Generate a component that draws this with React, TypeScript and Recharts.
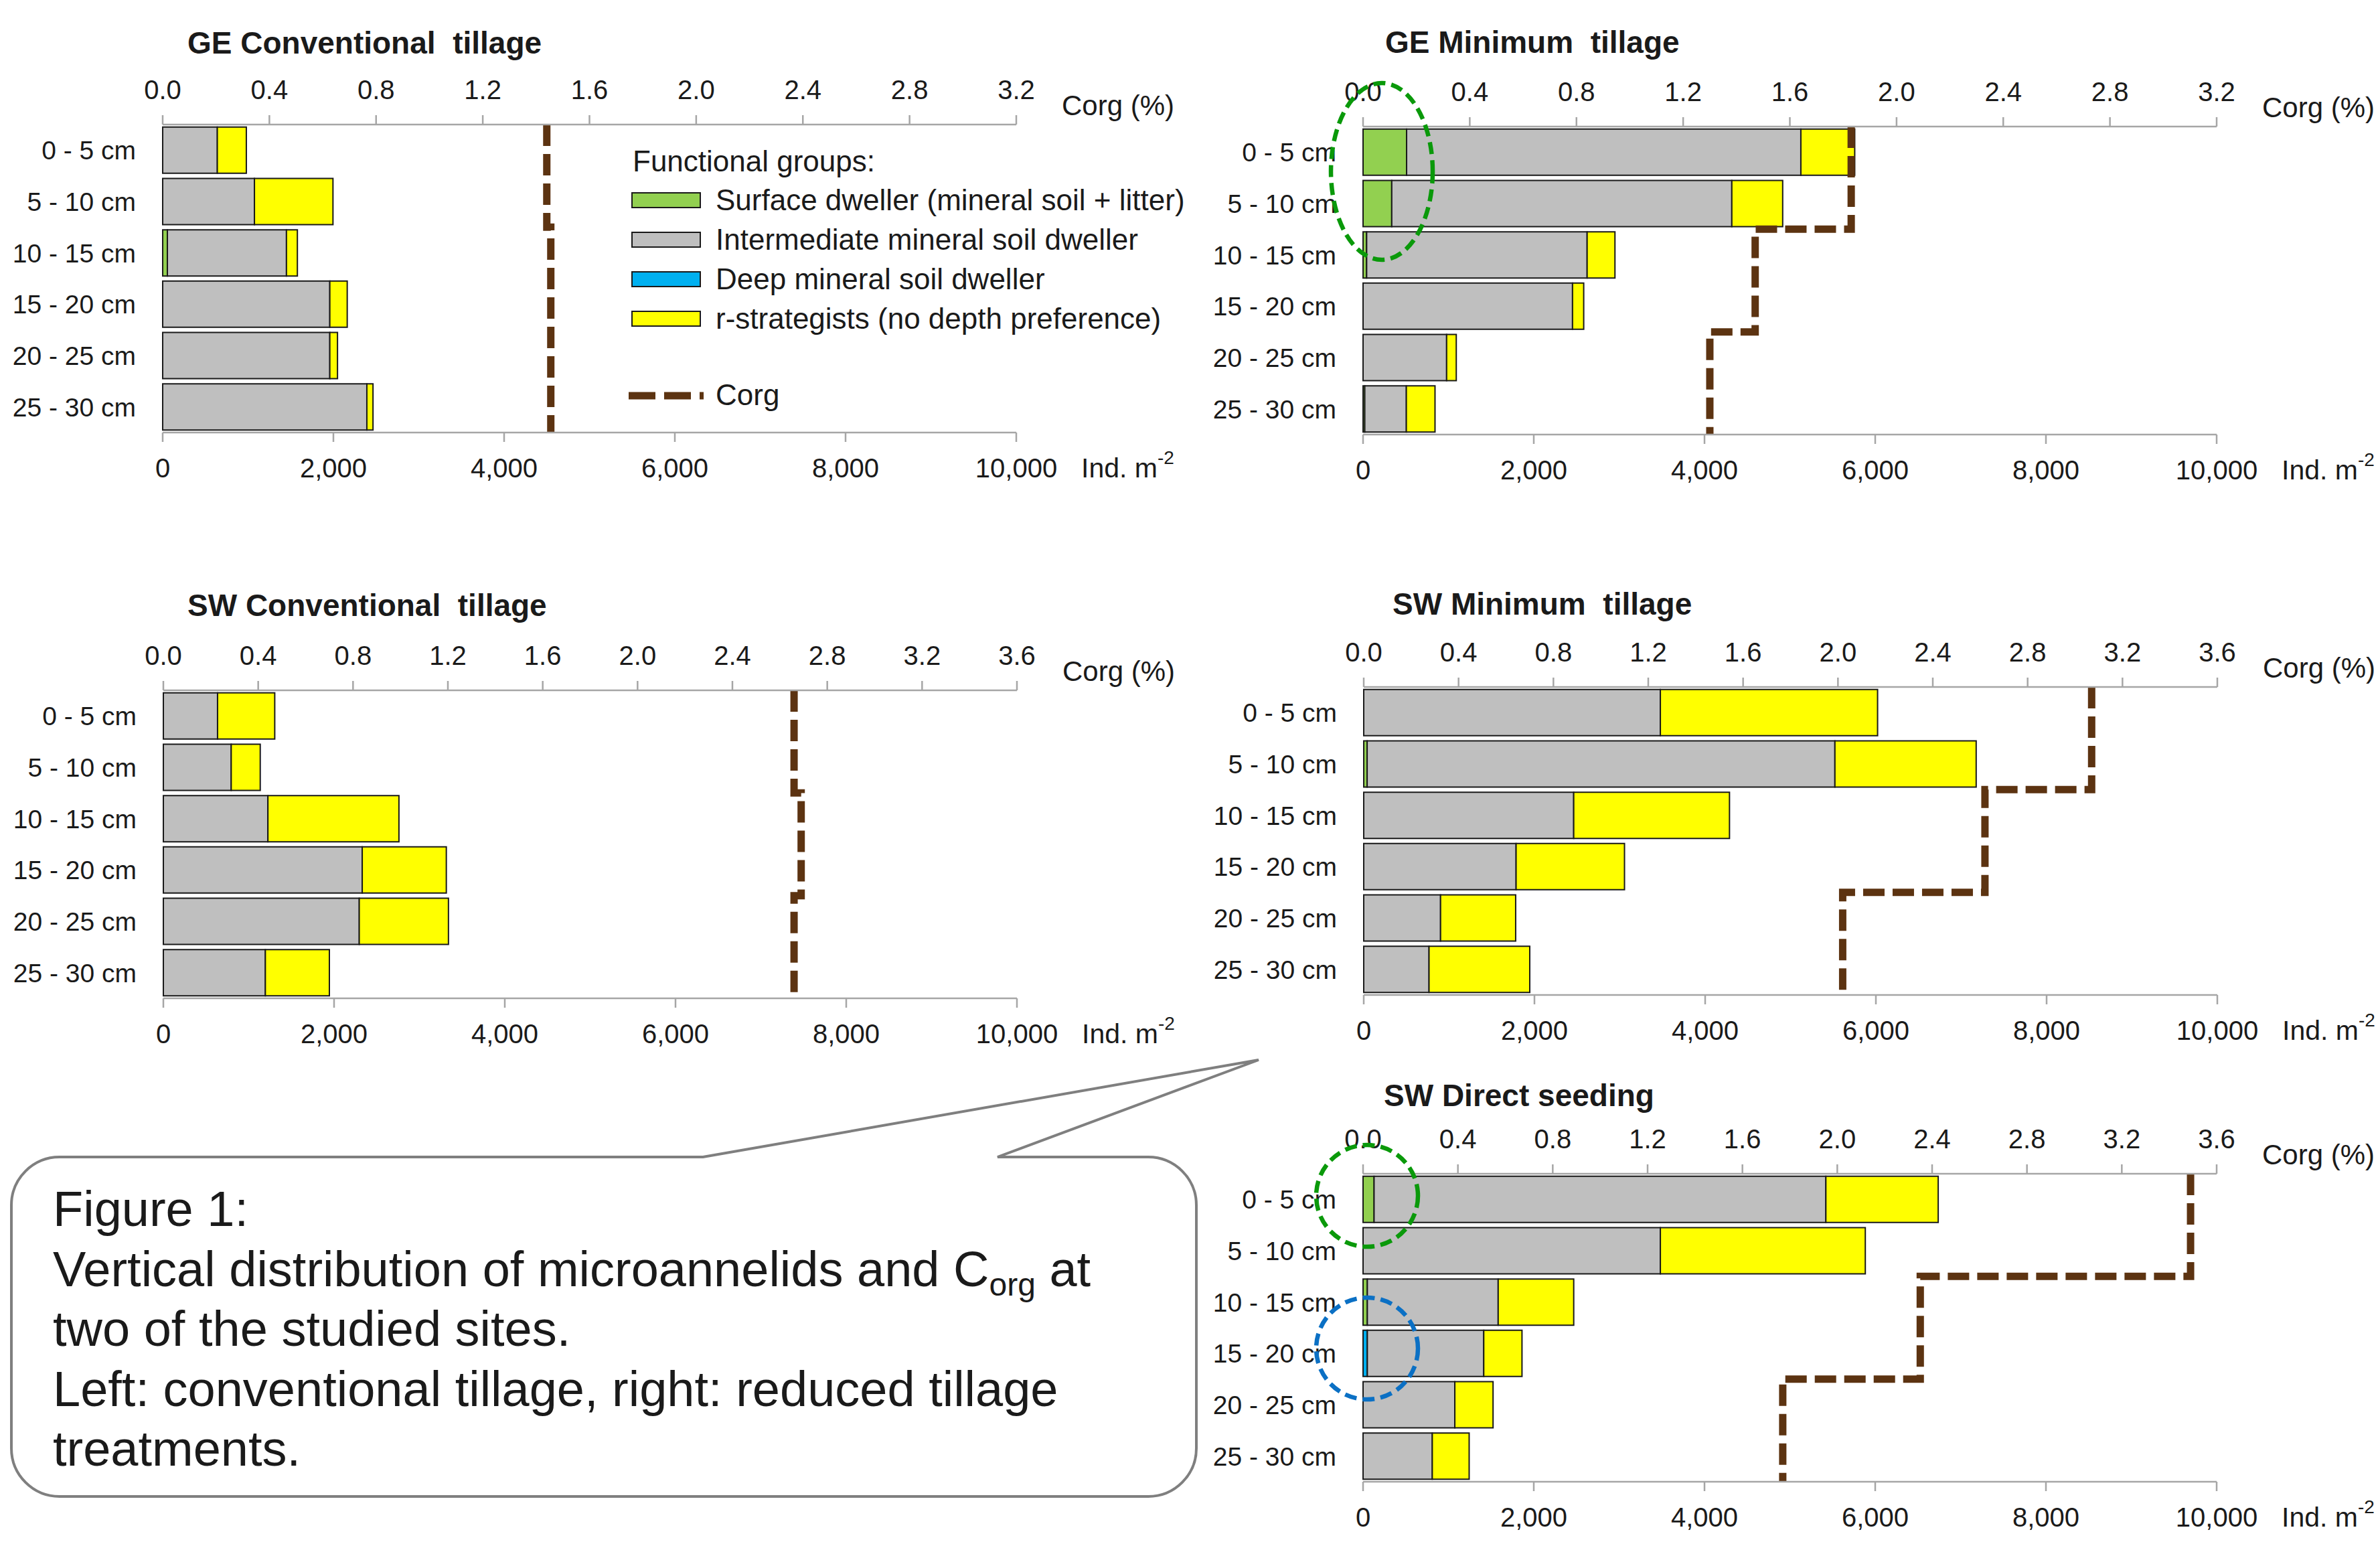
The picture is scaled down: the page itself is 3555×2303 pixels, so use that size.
import React from "react";
import { Bar, ComposedChart, Line, XAxis, YAxis } from "recharts";

const FONT = '"Liberation Sans", Arial, Helvetica, sans-serif';

const depthLabels = ["0 - 5 cm", "5 - 10 cm", "10 - 15 cm", "15 - 20 cm", "20 - 25 cm", "25 - 30 cm"];
const countTicks = [0, 2000, 4000, 6000, 8000, 10000];
const corgTicks32 = [0, 0.4, 0.8, 1.2, 1.6, 2.0, 2.4, 2.8, 3.2];
const corgTicks36 = [0, 0.4, 0.8, 1.2, 1.6, 2.0, 2.4, 2.8, 3.2, 3.6];
// Corg was measured in three layers: 0-10, 10-20, 20-30 cm
const corgLayerBounds = [0, 10, 20, 30];

// GE conventional tillage (Ind. m-2)
const geConvSurface = [0, 0, 55, 0, 0, 0];
const geConvIntermediate = [640, 1075, 1395, 1958, 1958, 2392];
const geConvDeep = [0, 0, 0, 0, 0, 0];
const geConvR = [340, 920, 128, 204, 90, 72];
const geConvCorg = [1.44, 1.455, 1.455];

// GE minimum tillage
const geMinSurface = [510, 336, 42, 0, 0, 20];
const geMinIntermediate = [4619, 3984, 2583, 2454, 979, 487];
const geMinDeep = [0, 0, 0, 0, 0, 0];
const geMinR = [631, 596, 326, 131, 113, 336];
const geMinCorg = [1.83, 1.47, 1.3];

// SW conventional tillage
const swConvSurface = [0, 0, 0, 0, 0, 0];
const swConvIntermediate = [635, 795, 1225, 2330, 2295, 1195];
const swConvDeep = [0, 0, 0, 0, 0, 0];
const swConvR = [670, 340, 1535, 985, 1045, 750];
const swConvCorg = [2.66, 2.69, 2.66];

// SW minimum tillage
const swMinSurface = [0, 40, 0, 0, 0, 0];
const swMinIntermediate = [3475, 5480, 2460, 1785, 900, 765];
const swMinDeep = [0, 0, 0, 0, 0, 0];
const swMinR = [2545, 1655, 1825, 1270, 880, 1180];
const swMinCorg = [3.07, 2.62, 2.02];

// SW direct seeding
const swDsSurface = [129, 0, 50, 0, 0, 0];
const swDsIntermediate = [5293, 3483, 1533, 1364, 1075, 811];
const swDsDeep = [0, 0, 0, 50, 0, 0];
const swDsR = [1316, 2401, 885, 448, 448, 432];
const swDsCorg = [3.49, 2.35, 1.77];

const COLORS = {
  surface: "#92d050",
  intermediate: "#bfbfbf",
  deep: "#00b0f0",
  rStrat: "#ffff00",
  corg: "#5c3311",
  axis: "#a6a6a6",
  text: "#1a1a1a",
};

// chart box: y-axis width + plot + right margin
const Y_W = 243;
const TOP_H = 150;
const BOTTOM_H = 100;
const PLOT_W = 1275;
const PLOT_H = 460;
const RIGHT_M = 80;
const CHART_W = Y_W + PLOT_W + RIGHT_M;
const CHART_H = TOP_H + PLOT_H + BOTTOM_H;

type PanelProps = {
  title: string;
  surface: number[];
  intermediate: number[];
  deep: number[];
  rStrat: number[];
  corg: number[];
  corgTicks: number[];
  plotLeft: number;
  plotTop: number;
};

function Panel({ surface, intermediate, deep, rStrat, corg, corgTicks, plotLeft, plotTop }: PanelProps) {
  const rows = depthLabels.map((label, i) => ({
    label,
    surface: surface[i],
    deep: deep[i],
    intermediate: intermediate[i],
    rStrat: rStrat[i],
  }));
  const steps = corg.flatMap((v, i) => [
    { depth: corgLayerBounds[i], corg: v },
    { depth: corgLayerBounds[i + 1], corg: v },
  ]);
  const corgMax = corgTicks[corgTicks.length - 1];
  const axisLine = { stroke: COLORS.axis, strokeWidth: 2.5 };
  const barProps = { stackId: "a", xAxisId: "count", yAxisId: "cat", stroke: "#1a1a1a", strokeWidth: 2, isAnimationActive: false };

  return (
    <div style={{ position: "absolute", left: plotLeft - Y_W, top: plotTop - TOP_H }}>
      <ComposedChart
        width={CHART_W}
        height={CHART_H}
        data={rows}
        layout="vertical"
        margin={{ top: 0, right: RIGHT_M, bottom: 0, left: 0 }}
        barCategoryGap="5%"
      >
        <XAxis
          xAxisId="count"
          orientation="bottom"
          type="number"
          domain={[0, 10000]}
          ticks={countTicks}
          interval={0}
          height={BOTTOM_H}
          axisLine={axisLine}
          tickLine={axisLine}
          tickSize={14}
          tickMargin={25}
          tick={{ fill: COLORS.text, fontSize: 40 }}
          tickFormatter={(v) => Number(v).toLocaleString("en-US")}
        />
        <XAxis
          xAxisId="corg"
          orientation="top"
          type="number"
          dataKey="corg"
          domain={[0, corgMax]}
          allowDataOverflow
          ticks={corgTicks}
          interval={0}
          height={TOP_H}
          axisLine={axisLine}
          tickLine={axisLine}
          tickSize={14}
          tickMargin={24}
          tick={{ fill: COLORS.text, fontSize: 40 }}
          tickFormatter={(v) => Number(v).toFixed(1)}
        />
        <YAxis
          yAxisId="cat"
          type="category"
          dataKey="label"
          width={Y_W}
          axisLine={false}
          tickLine={false}
          tickSize={0}
          tickMargin={40}
          tick={{ fill: COLORS.text, fontSize: 39 }}
        />
        <YAxis yAxisId="depth" type="number" dataKey="depth" domain={[0, 30]} allowDataOverflow hide />
        <Bar dataKey="surface" fill={COLORS.surface} {...barProps} />
        <Bar dataKey="deep" fill={COLORS.deep} {...barProps} />
        <Bar dataKey="intermediate" fill={COLORS.intermediate} {...barProps} />
        <Bar dataKey="rStrat" fill={COLORS.rStrat} {...barProps} />
        <Line
          data={steps}
          xAxisId="corg"
          yAxisId="depth"
          dataKey="corg"
          type="linear"
          stroke={COLORS.corg}
          strokeWidth={11}
          strokeDasharray="32 12"
          dot={false}
          activeDot={false}
          isAnimationActive={false}
        />
      </ComposedChart>
    </div>
  );
}

const panels: PanelProps[] = [
  { title: "GE Conventional  tillage", surface: geConvSurface, intermediate: geConvIntermediate, deep: geConvDeep, rStrat: geConvR, corg: geConvCorg, corgTicks: corgTicks32, plotLeft: 243, plotTop: 186 },
  { title: "GE Minimum  tillage", surface: geMinSurface, intermediate: geMinIntermediate, deep: geMinDeep, rStrat: geMinR, corg: geMinCorg, corgTicks: corgTicks32, plotLeft: 2036, plotTop: 189 },
  { title: "SW Conventional  tillage", surface: swConvSurface, intermediate: swConvIntermediate, deep: swConvDeep, rStrat: swConvR, corg: swConvCorg, corgTicks: corgTicks36, plotLeft: 244, plotTop: 1031 },
  { title: "SW Minimum  tillage", surface: swMinSurface, intermediate: swMinIntermediate, deep: swMinDeep, rStrat: swMinR, corg: swMinCorg, corgTicks: corgTicks36, plotLeft: 2037, plotTop: 1026 },
  { title: "SW Direct seeding", surface: swDsSurface, intermediate: swDsIntermediate, deep: swDsDeep, rStrat: swDsR, corg: swDsCorg, corgTicks: corgTicks36, plotLeft: 2036, plotTop: 1753 },
];

const titleSpots = [
  { x: 280, y: 80 },
  { x: 2069, y: 79 },
  { x: 280, y: 920 },
  { x: 2080, y: 918 },
  { x: 2067, y: 1652 },
];

const legendItems = [
  { label: "Surface dweller (mineral soil + litter)", color: COLORS.surface },
  { label: "Intermediate mineral soil dweller", color: COLORS.intermediate },
  { label: "Deep mineral soil dweller", color: COLORS.deep },
  { label: "r-strategists (no depth preference)", color: COLORS.rStrat },
];

const captionLines = [
  "Figure 1:",
  "",
  "two of the studied sites.",
  "Left: conventional tillage, right: reduced tillage",
  "treatments.",
];

function Overlay() {
  const txt = { fill: COLORS.text, fontFamily: FONT };
  return (
    <svg width={3555} height={2303} style={{ position: "absolute", left: 0, top: 0, pointerEvents: "none" }}>
      {panels.map((p, i) => (
        <g key={p.title}>
          <text x={titleSpots[i].x} y={titleSpots[i].y} fontSize={46} fontWeight="bold" style={{ whiteSpace: "pre" }} {...txt}>
            {p.title}
          </text>
          <text x={p.plotLeft + 1343} y={p.plotTop - 14} fontSize={42} {...txt}>
            Corg (%)
          </text>
          <text x={p.plotLeft + 1372} y={p.plotTop + PLOT_H + 67} fontSize={41} {...txt}>
            Ind. m
            <tspan dy={-20} fontSize={28}>-2</tspan>
          </text>
        </g>
      ))}

      {/* legend inside GE conventional panel */}
      <text x={945} y={256} fontSize={44} {...txt}>Functional groups:</text>
      {legendItems.map((it, i) => (
        <g key={it.label}>
          <rect x={944} y={288 + i * 59} width={102} height={22} fill={it.color} stroke="#1a1a1a" strokeWidth={2} />
          <text x={1069} y={314 + i * 59} fontSize={44} {...txt}>{it.label}</text>
        </g>
      ))}
      <line x1={939} x2={1051} y1={591} y2={591} stroke={COLORS.corg} strokeWidth={11} strokeDasharray="40 13" />
      <text x={1069} y={605} fontSize={44} {...txt}>Corg</text>

      {/* highlight ellipses */}
      <ellipse cx={2064} cy={256} rx={76} ry={132} fill="none" stroke="#0a990a" strokeWidth={6.5} strokeDasharray="18 9" />
      <ellipse cx={2042} cy={1786} rx={76} ry={76} fill="none" stroke="#0a990a" strokeWidth={6.5} strokeDasharray="18 9" />
      <ellipse cx={2042} cy={2014} rx={76} ry={76} fill="none" stroke="#0b70c4" strokeWidth={6.5} strokeDasharray="18 9" />

      {/* caption callout */}
      <path
        d="M 89 1728 L 1050 1728 L 1880 1583 L 1490 1728 L 1715 1728 A 72 72 0 0 1 1787 1800 L 1787 2163 A 72 72 0 0 1 1715 2235 L 89 2235 A 72 72 0 0 1 17 2163 L 17 1800 A 72 72 0 0 1 89 1728 Z"
        fill="#ffffff"
        stroke="#7f7f7f"
        strokeWidth={4}
      />
      {captionLines.map((line, i) =>
        i === 1 ? (
          <text key={i} x={79} y={1831 + i * 89.5} fontSize={74} {...txt}>
            Vertical distribution of microannelids and C
            <tspan dy={14} fontSize={48}>org</tspan>
            <tspan dy={-14}> at</tspan>
          </text>
        ) : (
          <text key={i} x={79} y={1831 + i * 89.5} fontSize={74} {...txt}>
            {line}
          </text>
        )
      )}
    </svg>
  );
}

export default function App() {
  return (
    <div
      style={{
        position: "absolute",
        left: 0,
        top: 0,
        width: 3555,
        height: 2303,
        background: "#ffffff",
        overflow: "hidden",
        fontFamily: FONT,
      }}
    >
      {panels.map((p) => (
        <Panel key={p.title} {...p} />
      ))}
      <Overlay />
    </div>
  );
}
